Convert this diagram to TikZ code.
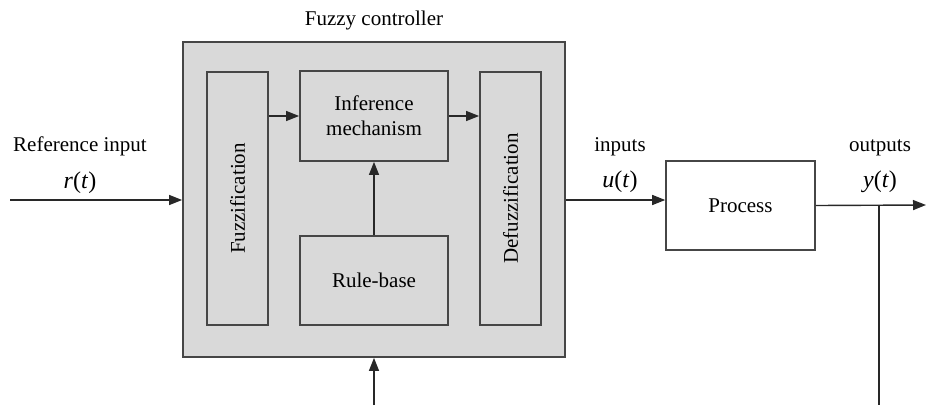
\documentclass[tikz,border=0pt]{standalone}
\usepackage{fontspec}
\setmainfont{Liberation Serif}
\usetikzlibrary{arrows.meta}
\definecolor{boxfill}{RGB}{217,217,217}
\definecolor{boxline}{RGB}{70,70,70}
\definecolor{wirec}{RGB}{40,40,40}
\begin{document}
\begin{tikzpicture}[x=1pt,y=-1pt,
  box/.style={draw=boxline,line width=1.8pt,fill=boxfill,inner sep=0pt},
  wbox/.style={draw=boxline,line width=1.6pt,fill=white,inner sep=0pt},
  lbl/.style={font=\fontsize{21}{25}\selectfont,inner sep=0pt,align=center},
  mlbl/.style={font=\fontsize{24}{28}\selectfont,inner sep=0pt},
  arr/.style={line width=1.4pt,draw=wirec,-{Triangle[length=13pt,width=10pt]}},
  ln/.style={line width=1.3pt,draw=wirec}]
\useasboundingbox (0,0) rectangle (926,405);
% boxes
\node[box,minimum width=382pt,minimum height=315pt] (fc) at (374,199.5) {};
\node[box,minimum width=61pt,minimum height=253pt] (fuzz) at (237.5,198.5) {};
\node[lbl,rotate=90] (fuzzt) at (fuzz.center) {Fuzzification};
\node[box,minimum width=148pt,minimum height=90pt] (inf) at (374,116) {};
\node[lbl] (inft) at (inf.center) {Inference\\mechanism};
\node[box,minimum width=61pt,minimum height=253pt] (defuzz) at (510.5,198.5) {};
\node[lbl,rotate=90] (defuzzt) at (defuzz.center) {Defuzzification};
\node[box,minimum width=148pt,minimum height=89pt] (rule) at (374,280.5) {};
\node[lbl] (rulet) at (rule.center) {Rule-base};
\node[wbox,minimum width=149pt,minimum height=89pt] (proc) at (740.5,205.5) {};
\node[lbl] (proct) at (proc.center) {Process};
% labels
\node[lbl] (fct) at (374,20) {Fuzzy controller};
\node[lbl] (refin) at (80,146) {Reference input};
\node[mlbl] (rt) at (80,183) {\textit{r}(\textit{t})};
\node[lbl] (inp) at (620,147) {inputs};
\node[mlbl] (ut) at (620,182) {\textit{u}(\textit{t})};
\node[lbl] (outp) at (880,148) {outputs};
\node[mlbl] (yt) at (880,182) {\textit{y}(\textit{t})};
% free ends
\coordinate (in) at (10,200);
\coordinate (fb) at (374,405);
\coordinate (out) at (926,205);
\coordinate (fbk) at (879,405);
% connectors
\draw[arr] (fuzz.east |- inf.west) -- (inf.west);
\draw[arr] (inf.east) -- (defuzz.west |- inf.east);
\draw[arr] (rule.north) -- (inf.south);
\draw[arr] (in) -- (in -| fc.west);
\draw[arr] (fb) -- (fc.south);
\draw[arr] (fc.east |- in) -- (proc.west |- in);
\draw[arr] (proc.east) -- (out);
\draw[ln] (proc.east -| fbk) -- (fbk);
\end{tikzpicture}
\end{document}
